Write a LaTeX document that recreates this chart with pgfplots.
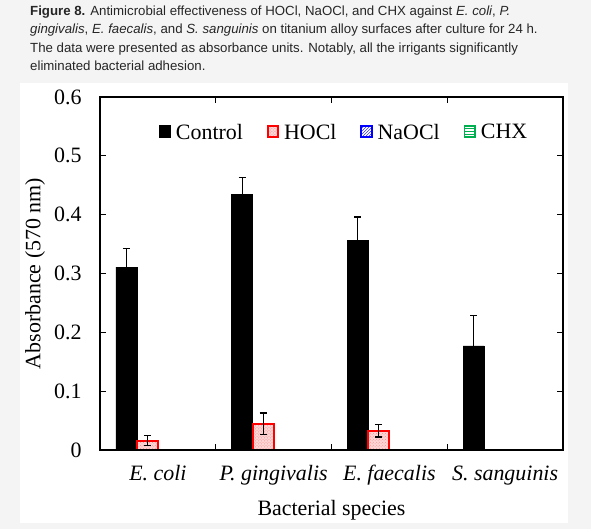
\documentclass[border=0pt]{standalone}
\usepackage{pgfplots}
\pgfplotsset{compat=1.18}
\usepackage{fontspec}
\setmainfont{Liberation Serif}
\newfontfamily\capfont{Liberation Sans}
\usetikzlibrary{patterns}

\definecolor{pagebg}{RGB}{244,244,244}
\definecolor{hoclred}{RGB}{255,0,0}
\definecolor{hoclfill}{RGB}{252,215,215}
\definecolor{naoclblue}{RGB}{0,0,255}
\definecolor{chxgreen}{RGB}{0,176,80}

\begin{document}
\begin{tikzpicture}
% page and panel
\fill[pagebg] (0,0) rectangle (591bp,529bp);
\fill[white] (20bp,6bp) rectangle (568bp,446bp);

% caption
\begin{scope}[every node/.style={anchor=base west, inner sep=0pt, font=\capfont\fontsize{13.3}{15}\selectfont, text=black!85}]
\node at (30bp,513.5bp) {\textbf{Figure 8.} Antimicrobial effectiveness of HOCl, NaOCl, and CHX against \textit{E. coli}, \textit{P.}};
\node at (30bp,495bp) {\textit{gingivalis}, \textit{E. faecalis}, and \textit{S. sanguinis} on titanium alloy surfaces after culture for 24 h.};
\node at (30bp,476.5bp) {The data were presented as absorbance units. Notably, all the irrigants significantly};
\node at (30bp,458bp) {eliminated bacterial adhesion.};
\end{scope}

\begin{axis}[
    at={(100bp,79bp)}, anchor=south west,
    scale only axis, width=463bp, height=353bp,
    font=\fontsize{22}{26}\selectfont,
    xmin=-0.5, xmax=3.5, ymin=0, ymax=0.6,
    ybar=0pt, bar width=21bp,
    axis on top,
    axis line style={line width=1.5bp},
    tick align=inside,
    tick style={black, line width=1.3bp},
    major tick length=6bp,
    xtick={0.5,1.5,2.5}, xticklabels={,,},
    extra x ticks={0,1,2,3},
    extra x tick labels={\textit{E. coli},\textit{P. gingivalis},\textit{E. faecalis},\textit{S. sanguinis}},
    extra x tick style={major tick length=0pt, xticklabel style={yshift=-12bp}},
    ytick={0,0.1,0.2,0.3,0.4,0.5,0.6},
    yticklabels={0,0.1,0.2,0.3,0.4,0.5,0.6},
    yticklabel style={xshift=-15bp},
    xlabel={Bacterial species},
    xlabel style={at={(axis description cs:0.5,-0.17)}, anchor=center},
    ylabel={Absorbance (570 nm)},
    ylabel style={at={(axis description cs:-0.14,0.5)}, anchor=center, rotate=0},
    legend columns=4,
    legend style={at={(0.527,0.9)}, anchor=center, draw=none, fill=none,
        /tikz/every even column/.append style={column sep=22bp},
        /tikz/every odd column/.append style={column sep=3bp},
        cells={anchor=west}},
    legend image code/.code={\draw[#1, line width=1.7bp] (0bp,-5bp) rectangle (10.5bp,6.5bp);},
    error bars/y dir=both, error bars/y explicit,
    error bars/error bar style={black, line width=1.2bp},
    error bars/error mark options={black, line width=1.2bp, mark size=3.5bp, rotate=90},
]
\addplot[fill=black, draw=black] coordinates {
    (0,0.311) +- (0,0.031)
    (1,0.435) +- (0,0.028)
    (2,0.356) +- (0,0.040)
    (3,0.177) +- (0,0.052)
};
\addplot[fill=hoclfill, draw=hoclred, line width=2bp,
    postaction={pattern=crosshatch dots, pattern color=red!45}] coordinates {
    (0,0.016) +- (0,0.009)
    (1,0.045) +- (0,0.018)
    (2,0.033) +- (0,0.011)
    (3,0) +- (0,0)
};
\addplot[draw=naoclblue, line width=1.6bp, pattern=north east lines, pattern color=naoclblue, error bars/y dir=none] coordinates {
    (0,0) (1,0) (2,0) (3,0)
};
\addplot[draw=chxgreen, line width=1.6bp, pattern=horizontal lines, pattern color=chxgreen, error bars/y dir=none] coordinates {
    (0,0) (1,0) (2,0) (3,0)
};
\legend{Control,HOCl,NaOCl,CHX}
\end{axis}
\end{tikzpicture}
\end{document}
